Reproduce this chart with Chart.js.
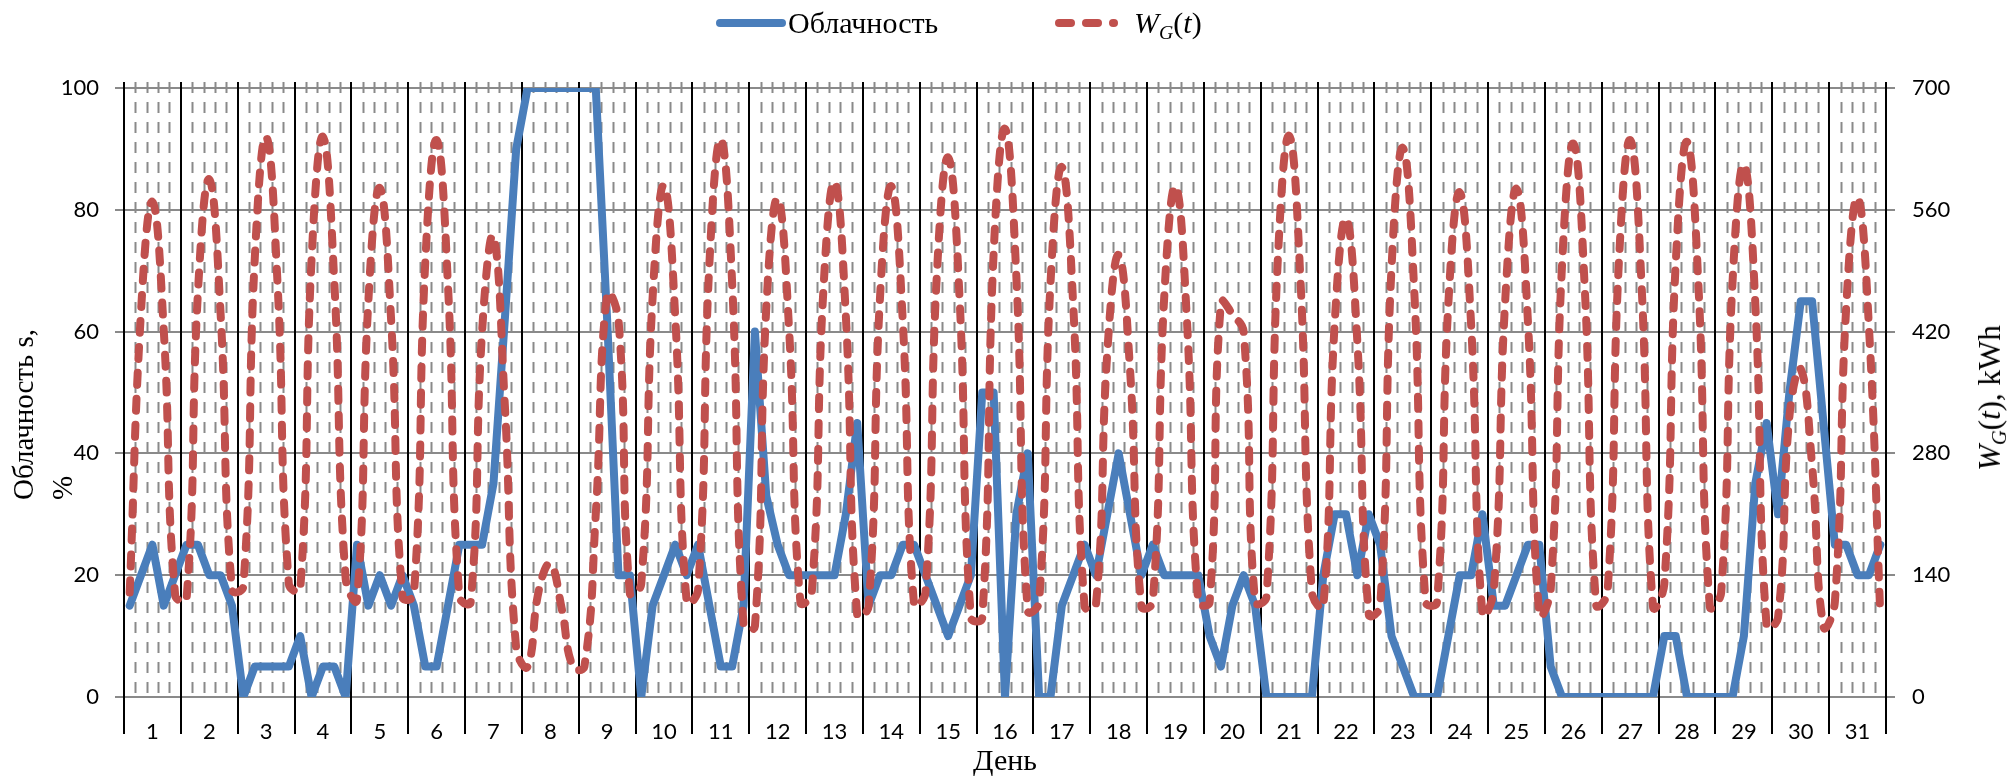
<!DOCTYPE html>
<html>
<head>
<meta charset="utf-8">
<title>Облачность и выработка</title>
<script src="https://cdn.jsdelivr.net/npm/chart.js@4.4.1/dist/chart.umd.min.js"></script>
<style>
  html, body { margin: 0; padding: 0; background: #fff; }
  #wrap { position: relative; width: 2013px; height: 779px; overflow: hidden; }
  #chart { position: absolute; left: 0; top: 0; }
  .txt { position: absolute; white-space: nowrap; color: #000;
         font-family: "Liberation Serif", "Times New Roman", serif; }
  .txt sub { font-size: 0.66em; vertical-align: -0.3em; line-height: 0; }
  .swatch { position: absolute; height: 8px; border-radius: 4px; }
</style>
</head>
<body>
<div id="wrap">
  <canvas id="chart" width="2013" height="779"></canvas>

  <!-- legend -->
  <div class="swatch" style="left:716px; top:19px; width:70px; background:#4A7EBB;"></div>
  <div class="txt" style="left:788px; top:8px; font-size:30px; line-height:30px;">Облачность</div>
  <div class="swatch" style="left:1055px; top:19px; width:20px; background:#C0504D;"></div>
  <div class="swatch" style="left:1082px; top:19px; width:20px; background:#C0504D;"></div>
  <div class="swatch" style="left:1109px; top:19px; width:9px; background:#C0504D;"></div>
  <div class="txt" style="left:1134px; top:8px; font-size:30px; line-height:30px;"><i>W</i><sub><i>G</i></sub>(<i>t</i>)</div>

  <!-- axis titles -->
  <div class="txt" style="left:4px; top:500px; font-size:29px; line-height:39px; transform-origin:0 0; transform:rotate(-90deg);">Облачность s,<br>%</div>
  <div class="txt" style="left:1972px; top:398px; font-size:31px; line-height:36px; transform-origin:0 0; transform:rotate(-90deg) translateX(-50%);"><i>W</i><sub><i>G</i></sub>(<i>t</i>), kWh</div>
  <div class="txt" style="left:905px; top:745px; width:200px; text-align:center; font-size:30px; line-height:30px;">День</div>
</div>

<script>
// Five readings per day, 31 days
const SLOTS_PER_DAY = 5;
const dayNumbers = ['1','2','3','4','5','6','7','8','9','10','11','12','13','14','15','16',
                    '17','18','19','20','21','22','23','24','25','26','27','28','29','30','31'];

// Cloudiness s, % (left axis)
const cloudiness = [
  [15, 20, 25, 15, 20], [25, 25, 20, 20, 15], [0, 5, 5, 5, 5],      [10, 0, 5, 5, 0],
  [25, 15, 20, 15, 20], [15, 5, 5, 15, 25],   [25, 25, 35, 62, 90], [100, 100, 100, 100, 100],
  [100, 100, 62, 20, 20], [0, 15, 20, 25, 20], [25, 15, 5, 5, 15],  [60, 33, 25, 20, 20],
  [20, 20, 20, 30, 45], [15, 20, 20, 25, 25], [20, 15, 10, 15, 20], [50, 50, 0, 30, 40],
  [0, 0, 15, 20, 25],   [20, 30, 40, 30, 20], [25, 20, 20, 20, 20], [10, 5, 15, 20, 15],
  [0, 0, 0, 0, 0],      [20, 30, 30, 20, 30], [25, 10, 5, 0, 0],    [0, 10, 20, 20, 30],
  [15, 15, 20, 25, 25], [5, 0, 0, 0, 0],      [0, 0, 0, 0, 0],      [10, 10, 0, 0, 0],
  [0, 0, 10, 35, 45],   [30, 50, 65, 65, 45], [25, 25, 20, 20, 25]
];

// Generation W_G(t), kWh (right axis)
const generation = [
  [120, 444, 569, 421, 117], [112, 464, 595, 440, 123], [127, 503, 644, 477, 130], [123, 503, 644, 477, 136],
  [112, 456, 585, 433, 115], [117, 499, 640, 473, 115], [109, 420, 529, 336, 56],  [35, 123, 153, 102, 34],
  [35, 210, 463, 434, 119],  [130, 459, 588, 435, 109], [123, 499, 641, 475, 83],  [81, 447, 573, 424, 109],
  [120, 462, 592, 438, 94],  [104, 458, 587, 434, 106], [120, 484, 620, 459, 91],  [91, 510, 653, 483, 99],
  [109, 475, 609, 451, 104], [106, 396, 508, 376, 104], [109, 458, 587, 434, 109], [109, 454, 440, 419, 109],
  [115, 503, 645, 477, 120], [104, 429, 550, 407, 95],  [104, 493, 631, 467, 109], [109, 452, 580, 429, 95],
  [123, 455, 584, 432, 95],  [123, 496, 636, 470, 106], [120, 499, 640, 473, 104], [130, 498, 638, 473, 104],
  [120, 477, 612, 453, 81],  [91, 322, 377, 266, 81],   [109, 448, 574, 425, 94]
];

const leftTicks = { min: 0, max: 100, step: 20 };
const rightTicks = { min: 0, max: 700, step: 140 };

// one category per reading; the day number sits under the middle reading
const slotLabels = dayNumbers.flatMap(d => Array(SLOTS_PER_DAY).fill(d));
const cloudSeries = cloudiness.flat();
const genSeries = generation.flat();

const TICK_FONT = { family: 'Lato, "Open Sans", sans-serif', size: 22 };
const GRID_GRAY = '#8a8a8a';

// dashed dividers between readings and solid black day separators
const dayGrid = {
  id: 'dayGrid',
  beforeDatasetsDraw(chart) {
    const { ctx, chartArea: a, scales: { x } } = chart;
    const n = x.getLabels().length;
    const half = (x.getPixelForValue(1) - x.getPixelForValue(0)) / 2;
    const edge = i => x.getPixelForValue(i) - half;
    ctx.save();
    ctx.lineWidth = 2;
    ctx.strokeStyle = GRID_GRAY;
    ctx.setLineDash([11, 9]);
    for (let i = 1; i < n; i++) {
      if (i % SLOTS_PER_DAY === 0) continue;
      const px = Math.round(edge(i)) + 0.5;
      ctx.beginPath();
      ctx.moveTo(px, a.top - 6);
      ctx.lineTo(px, a.bottom);
      ctx.stroke();
    }
    ctx.setLineDash([]);
    ctx.strokeStyle = '#000';
    for (let i = 0; i <= n; i += SLOTS_PER_DAY) {
      const px = Math.round(i === n ? x.getPixelForValue(n - 1) + half : edge(i));
      ctx.beginPath();
      ctx.moveTo(px, a.top - 6);
      ctx.lineTo(px, a.bottom + 37);
      ctx.stroke();
    }
    ctx.restore();
  }
};

new Chart(document.getElementById('chart'), {
  type: 'line',
  data: {
    labels: slotLabels,
    datasets: [
      {
        label: 'Облачность',
        data: cloudSeries,
        yAxisID: 'yS',
        borderColor: '#4A7EBB',
        borderWidth: 8,
        borderJoinStyle: 'round',
        borderCapStyle: 'round',
        pointRadius: 0,
        tension: 0,
        order: 2
      },
      {
        label: 'W_G(t)',
        data: genSeries,
        yAxisID: 'yW',
        borderColor: '#C0504D',
        borderWidth: 8,
        borderDash: [12, 14],
        borderCapStyle: 'round',
        borderJoinStyle: 'round',
        pointRadius: 0,
        tension: 0.45,
        order: 1
      }
    ]
  },
  options: {
    responsive: false,
    animation: false,
    devicePixelRatio: 1,
    layout: { padding: { top: 88, left: 0, right: 0, bottom: 0 } },
    plugins: { legend: { display: false }, tooltip: { enabled: false } },
    scales: {
      x: {
        type: 'category',
        offset: true,
        grid: { display: false, drawTicks: false },
        border: { display: false },
        ticks: {
          autoSkip: false,
          maxRotation: 0,
          minRotation: 0,
          padding: 22,
          color: '#000',
          font: TICK_FONT,
          callback: (v, i) => (i % SLOTS_PER_DAY === 2 ? slotLabels[i] : '')
        },
        afterFit: s => { s.height = 82; }
      },
      yS: {
        position: 'left',
        min: leftTicks.min,
        max: leftTicks.max,
        ticks: { stepSize: leftTicks.step, padding: 16, color: '#000', font: TICK_FONT },
        grid: { color: GRID_GRAY, lineWidth: 2, tickLength: 9, tickColor: GRID_GRAY },
        border: { display: false },
        afterFit: s => { s.width = 124; }
      },
      yW: {
        position: 'right',
        min: rightTicks.min,
        max: rightTicks.max,
        ticks: { stepSize: rightTicks.step, padding: 17, color: '#000', font: TICK_FONT },
        grid: { drawOnChartArea: false, lineWidth: 2, tickLength: 9, color: GRID_GRAY, tickColor: GRID_GRAY },
        border: { display: false },
        afterFit: s => { s.width = 127; }
      }
    }
  },
  plugins: [dayGrid]
});
</script>
</body>
</html>
